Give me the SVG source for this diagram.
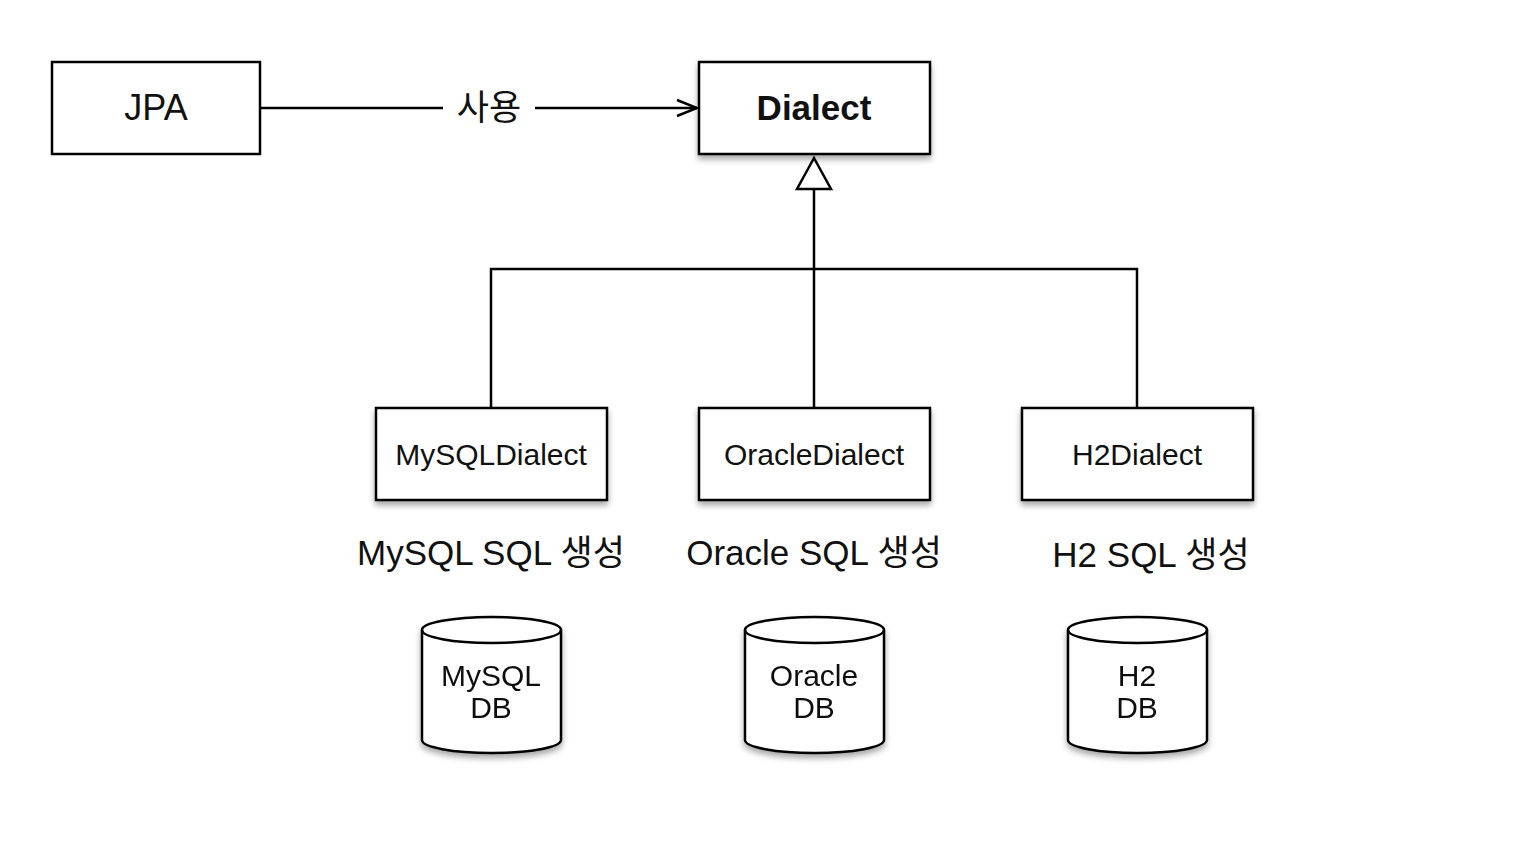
<svg xmlns="http://www.w3.org/2000/svg" width="1514" height="842" viewBox="0 0 1514 842">
<defs>
<filter id="sh" x="-10%" y="-10%" width="130%" height="140%">
<feGaussianBlur in="SourceAlpha" stdDeviation="3"/>
<feOffset dx="0" dy="4" result="b"/>
<feComponentTransfer><feFuncA type="linear" slope="0.35"/></feComponentTransfer>
<feMerge><feMergeNode/><feMergeNode in="SourceGraphic"/></feMerge>
</filter>
<marker id="open" markerWidth="24" markerHeight="20" refX="22" refY="10" orient="auto" markerUnits="userSpaceOnUse">
<path d="M2,2 L22,10 L2,18" fill="none" stroke="#000" stroke-width="2.5"/>
</marker>
</defs>
<style>
.box{fill:#fff;stroke:#000;stroke-width:2.5}
.ln{fill:none;stroke:#000;stroke-width:2.5}
.t{font-family:"Liberation Sans","Noto Sans CJK KR",sans-serif;fill:#111;text-anchor:middle}
.n{font-size:30px}
.lab{font-size:35px}
</style>
<rect width="1514" height="842" fill="#fff"/>
<g id="connectors">
<line class="ln" x1="260" y1="108" x2="443" y2="108"/>
<text class="t lab" x="489" y="120">사용</text>
<line class="ln" x1="535" y1="108" x2="697" y2="108" marker-end="url(#open)"/>
<polygon points="814,158 797,189 831,189" fill="#fff" stroke="#000" stroke-width="2.5"/>
<line class="ln" x1="814" y1="189" x2="814" y2="408"/>
<polyline class="ln" points="491,408 491,269 1137,269 1137,408"/>
</g>
<g id="jpa">
<rect class="box" x="52" y="62" width="208" height="92"/>
<text class="t" x="156" y="120" font-size="36">JPA</text>
</g>
<g id="dialect">
<rect class="box" x="699" y="62" width="231" height="92" filter="url(#sh)"/>
<text class="t" x="814" y="120" font-size="35" font-weight="bold">Dialect</text>
</g>
<g id="mysqldialect">
<rect class="box" x="376" y="408" width="231" height="92" filter="url(#sh)"/>
<text class="t n" x="491" y="465">MySQLDialect</text>
</g>
<g id="oracledialect">
<rect class="box" x="699" y="408" width="231" height="92" filter="url(#sh)"/>
<text class="t n" x="814" y="465">OracleDialect</text>
</g>
<g id="h2dialect">
<rect class="box" x="1022" y="408" width="231" height="92" filter="url(#sh)"/>
<text class="t n" x="1137" y="465">H2Dialect</text>
</g>
<g id="labels">
<text class="t lab" x="491" y="565">MySQL SQL 생성</text>
<text class="t lab" x="814" y="565">Oracle SQL 생성</text>
<text class="t lab" x="1151" y="567">H2 SQL 생성</text>
</g>
<g id="mysqldb" filter="url(#sh)">
<path class="box" d="M422,630 A69.5,13 0 0 1 561,630 L561,740 A69.5,13 0 0 1 422,740 Z"/>
<path class="ln" d="M422,630 A69.5,13 0 0 0 561,630"/>
<text class="t n" x="491" y="686">MySQL</text>
<text class="t n" x="491" y="718">DB</text>
</g>
<g id="oracledb" filter="url(#sh)">
<path class="box" d="M745,630 A69.5,13 0 0 1 884,630 L884,740 A69.5,13 0 0 1 745,740 Z"/>
<path class="ln" d="M745,630 A69.5,13 0 0 0 884,630"/>
<text class="t n" x="814" y="686">Oracle</text>
<text class="t n" x="814" y="718">DB</text>
</g>
<g id="h2db" filter="url(#sh)">
<path class="box" d="M1068,630 A69.5,13 0 0 1 1207,630 L1207,740 A69.5,13 0 0 1 1068,740 Z"/>
<path class="ln" d="M1068,630 A69.5,13 0 0 0 1207,630"/>
<text class="t n" x="1137" y="686">H2</text>
<text class="t n" x="1137" y="718">DB</text>
</g>
</svg>
